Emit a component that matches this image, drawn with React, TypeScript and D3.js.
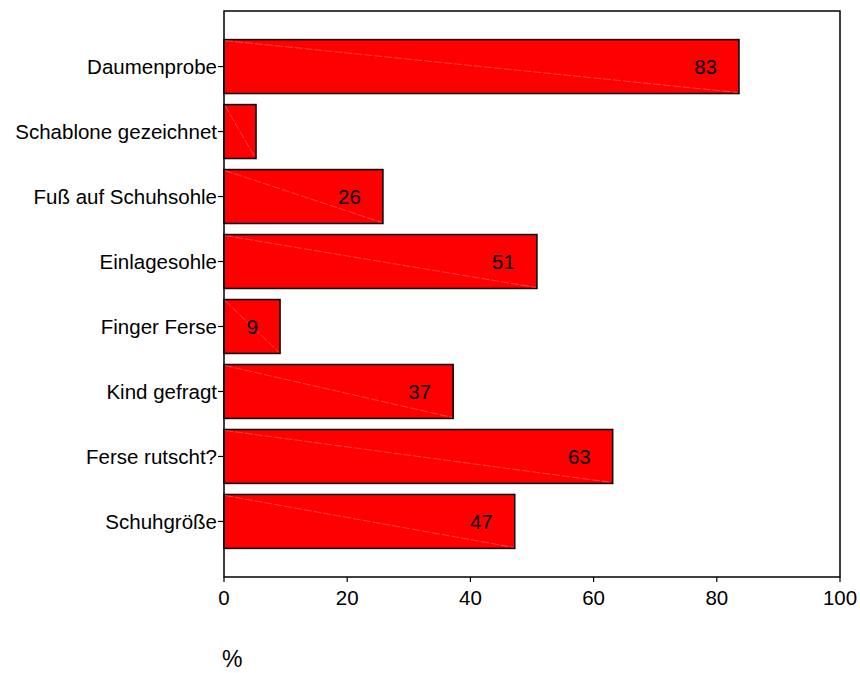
import React from 'react';
import * as d3 from 'd3';

// categories top to bottom, with their percentages
const categories = [
  'Daumenprobe',
  'Schablone gezeichnet',
  'Fuß auf Schuhsohle',
  'Einlagesohle',
  'Finger Ferse',
  'Kind gefragt',
  'Ferse rutscht?',
  'Schuhgröße',
];
const values = [83.6, 5.2, 25.8, 50.8, 9.1, 37.2, 63.1, 47.2];
// printed labels (the small bar carries none)
const labels: (string | null)[] = ['83', null, '26', '51', '9', '37', '63', '47'];
const xTicks = [0, 20, 40, 60, 80, 100];
const axisTitle = '%';

const W = 860;
const H = 673;
const FONT = '"Liberation Sans", Arial, Helvetica, sans-serif';
const FS = 20.5;

const App: React.FC = () => {
  const left = 224;
  const right = 840;
  const top = 11;
  const bottom = 577;

  const x = d3.scaleLinear().domain([0, 100]).range([left, right]);
  const y = d3
    .scaleBand<string>()
    .domain(categories)
    .range([top, bottom])
    .paddingInner(0.17)
    .paddingOuter(0.44);

  return (
    <svg
      width={W}
      height={H}
      style={{ position: 'absolute', left: 0, top: 0, background: '#fff' }}
      fontFamily={FONT}
    >
      {/* bars */}
      {categories.map((c, i) => {
        const y0 = y(c)!;
        const bw = x(values[i]) - x(0);
        const bh = y.bandwidth();
        return (
          <g key={c}>
            <rect x={x(0)} y={y0} width={bw} height={bh} fill="#ff0000" stroke="#000" strokeWidth={1.5} />
            {/* faint diagonal artefact seen in the original */}
            <line
              x1={x(0) + 1}
              y1={y0 + 1}
              x2={x(values[i]) - 1}
              y2={y0 + bh - 1}
              stroke="#ffffff"
              strokeOpacity={0.45}
              strokeWidth={0.6}
              strokeDasharray="8,2"
            />
            {labels[i] && (
              <text
                x={x(values[i]) - 22}
                y={y0 + bh / 2}
                dy="0.35em"
                textAnchor="end"
                fontSize={FS}
                fill="#000"
              >
                {labels[i]}
              </text>
            )}
          </g>
        );
      })}

      {/* frame */}
      <rect x={left} y={top} width={right - left} height={bottom - top} fill="none" stroke="#000" strokeWidth={1.5} />

      {/* y axis ticks + labels */}
      {categories.map((c) => {
        const cy = y(c)! + y.bandwidth() / 2;
        return (
          <g key={'y' + c}>
            <line x1={left - 6} x2={left} y1={cy} y2={cy} stroke="#000" strokeWidth={1.2} />
            <text x={left - 7} y={cy} dy="0.35em" textAnchor="end" fontSize={FS} fill="#000">
              {c}
            </text>
          </g>
        );
      })}

      {/* x axis ticks + labels */}
      {xTicks.map((t) => (
        <g key={'x' + t}>
          <line x1={x(t)} x2={x(t)} y1={bottom} y2={bottom + 5} stroke="#000" strokeWidth={1.2} />
          <text x={x(t)} y={605} textAnchor="middle" fontSize={FS} fill="#000">
            {t}
          </text>
        </g>
      ))}

      <text x={222} y={667} fontSize={23} fill="#000">
        {axisTitle}
      </text>
    </svg>
  );
};

export default App;
